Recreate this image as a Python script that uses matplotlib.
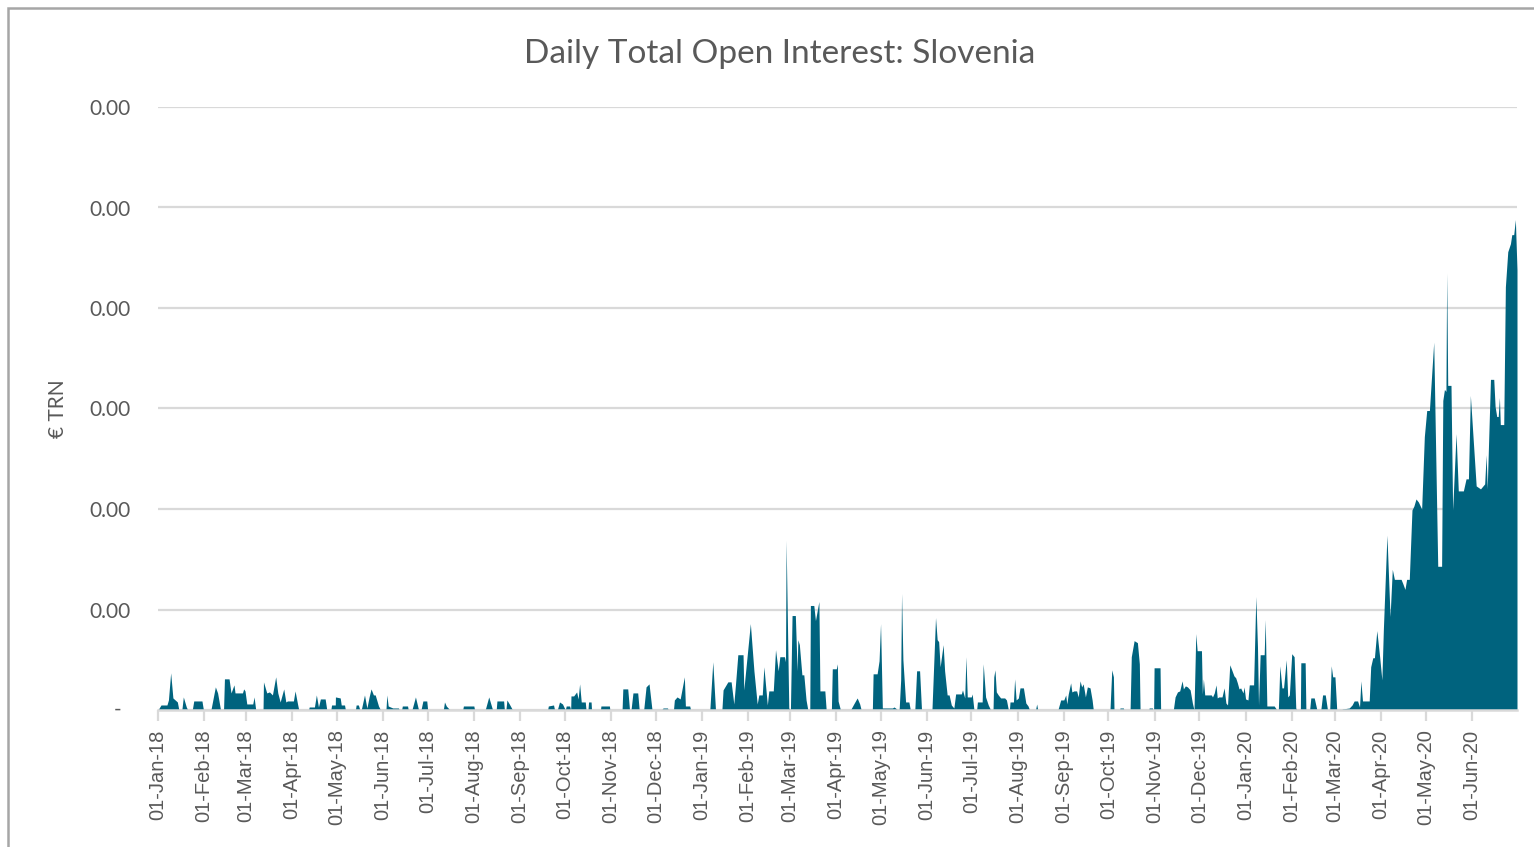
import matplotlib
matplotlib.use("Agg")
import matplotlib.pyplot as plt
import matplotlib.dates as mdates
from matplotlib.ticker import FixedLocator, FuncFormatter
from matplotlib.patches import Rectangle
import datetime as dt
import numpy as np

# ---- data: days since 01-Jan-2018 and open interest (chart units) ----
days_2018 = [0, 2, 6, 7, 8.5, 10, 13, 14, 16, 17, 19, 20, 23, 24, 29.5, 30.5,
             35.5, 38.5, 40, 42, 44, 44.6, 47.7, 49, 51, 51.7, 56.7, 57.5, 58.4, 59.6, 63.6, 64.5, 65.6,
             70.5, 70.8, 73, 74.8, 76.8, 79, 80.4, 82, 84.4, 85.8, 86.9, 90.9, 92, 93.8, 94.5,
             101, 101.5, 105, 106.3, 107.7, 109, 112.2, 113.3,
             116, 116.5, 119, 119.1, 122.3, 123, 125.2, 125.8,
             132.5, 133, 134.5, 135.5, 136.4, 138.6, 140.2, 141.7, 143, 144.6, 145.8, 148, 149.4,
             153, 153.6, 154.5, 157.6, 161.4, 162, 163.5, 164, 167.5, 168,
             170.4, 172.8, 174.9, 176.5, 177.8, 180.4, 181,
             191.5, 192.3, 193.5, 196, 204.5, 205, 212, 212.5,
             219.6, 222, 224.6, 227, 227.5, 232, 232.5, 233.5, 234.2, 235.8, 238,
             261.5, 262, 265.5, 266.2, 268, 269.5, 271.5, 273.4,
             274, 276.3, 277, 277.2, 279, 281, 282, 283, 284.1, 286.8, 287.3,
             288.6, 289, 290.7, 291, 297, 297.3, 303, 303.3,
             311.5, 312, 315.3, 316.5, 317.5, 318.8, 322, 323,
             326, 327.6, 329.6, 331.6, 338, 339, 342, 342.5,
             346, 346.6, 348.4, 350.5, 353.3, 354, 356.9, 357.5]
vals_2018 = [0, 0.05, 0.05, 0.1, 0.37, 0.12, 0.08, 0, 0, 0.13, 0.03, 0, 0, 0.09, 0.09, 0,
             0, 0.23, 0.17, 0, 0, 0.31, 0.31, 0.17, 0.25, 0.17, 0.17, 0.21, 0.19, 0.06, 0.06, 0.13, 0,
             0, 0.28, 0.17, 0.18, 0.15, 0.33, 0.17, 0.08, 0.21, 0.08, 0.09, 0.09, 0.19, 0.05, 0,
             0, 0.03, 0.03, 0.15, 0.03, 0.11, 0.11, 0,
             0, 0.05, 0.05, 0.13, 0.12, 0.05, 0.05, 0,
             0, 0.05, 0.05, 0, 0, 0.15, 0.02, 0.13, 0.21, 0.15, 0.15, 0.04, 0,
             0, 0.15, 0.04, 0.02, 0.02, 0, 0, 0.04, 0.04, 0,
             0, 0.13, 0, 0, 0.09, 0.09, 0,
             0, 0.08, 0.04, 0, 0, 0.04, 0.04, 0,
             0, 0.13, 0, 0, 0.09, 0.09, 0, 0, 0.1, 0.06, 0,
             0, 0.04, 0.05, 0, 0, 0.08, 0.06, 0,
             0.04, 0.04, 0, 0.14, 0.14, 0.18, 0.11, 0.26, 0.08, 0.08, 0,
             0, 0.08, 0.08, 0, 0, 0.04, 0.04, 0,
             0, 0.21, 0.21, 0, 0, 0.17, 0.17, 0,
             0, 0.23, 0.26, 0, 0, 0.02, 0.02, 0,
             0, 0.1, 0.13, 0.11, 0.33, 0.04, 0.04, 0]

days_2019 = [370.4, 372.4, 374.2,
             378.5, 379.3, 382.5, 384.7, 386.5, 387.6, 389.2, 392.7, 393.2, 397.6, 400, 402.2, 403.3, 405.6,
             406.7, 409, 410, 413, 414.5, 416.3, 417.4, 420.5, 421.2, 421.6, 423.4,
             424.5, 425.6, 427.8, 429, 429.5, 430.5, 432.2, 433.5, 435, 436.2,
             437.5, 437.9, 440.2, 441.3, 443.6, 444.3, 447.6, 448.5,
             452, 452.6, 455.3, 456, 456.5, 458.1,
             464.8, 467, 469.3, 471, 472,
             479.5, 480, 482.7, 484, 485, 486.2, 493, 494, 495, 496.5,
             497.5, 498.5, 499.1, 500, 501.8, 504, 505,
             508, 509.2, 511.2, 512.5,
             519.5, 521.9, 523, 524, 525, 527, 528, 529.7, 531, 532.5, 534.2,
             535.4, 539.2, 540, 541.5, 542.3, 543.2, 545.9, 546.5, 547.7,
             549.5, 550, 553.2, 553.9, 555.5, 557.3, 558.9,
             560.5, 561, 561.8, 562.7, 564, 565.6, 568.3, 569.5, 570.8,
             571.5, 571.9, 574.2, 575, 576, 577.5, 578.6, 580.9, 582.5, 584, 585,
             589, 589.8, 590.5,
             604, 605.9, 608, 609.3, 610, 611, 612.6, 613.4, 614.8, 616.6, 617.7, 618.9, 620, 621,
             622.5, 623.8, 625.6, 627, 627.8,
             639, 640.2, 641.3, 641.7, 645.5, 645.7, 648, 648.3,
             652.5, 653.3, 655.2, 657.4, 658.7, 659.2,
             665, 665.3, 667.5, 667.8, 668.3, 668.6, 672.6, 673,
             681.5, 682.7, 684.3, 685.8, 687.4, 688.3, 689.6, 691, 692.8, 694.3, 695.4,
             696.6, 697.5, 700.4, 701, 701.7, 702.6, 707, 707.8, 709, 710.2, 711, 712, 714.2,
             715.6, 716.8, 717.9, 719.4, 720.7, 722.2, 723.4, 724.5, 725.6, 726.7, 728.3, 729]
vals_2019 = [0, 0.48, 0,
             0, 0.2, 0.28, 0.28, 0.06, 0.25, 0.55, 0.55, 0.2, 0.86, 0.39, 0.06, 0.15, 0.15,
             0.43, 0.05, 0.19, 0.19, 0.6, 0.39, 0.53, 0.53, 0.48, 1.69, 0.02,
             0, 0.94, 0.94, 0.39, 0.7, 0.65, 0.35, 0.35, 0.1, 0,
             0, 1.04, 1.04, 0.89, 1.08, 0.19, 0.19, 0,
             0, 0.41, 0.41, 0.46, 0.09, 0,
             0, 0.06, 0.12, 0.06, 0,
             0, 0.36, 0.36, 0.49, 0.86, 0.02, 0.02, 0.03, 0.02, 0,
             0.01, 0.3, 1.16, 0.5, 0.08, 0.08, 0,
             0, 0.39, 0.39, 0,
             0, 0.92, 0.7, 0.68, 0.43, 0.65, 0.39, 0.15, 0.15, 0.05, 0.02,
             0.16, 0.16, 0.2, 0.12, 0.53, 0.13, 0.13, 0.16, 0,
             0, 0.08, 0.08, 0.46, 0.13, 0.05, 0,
             0, 0.33, 0.4, 0.18, 0.15, 0.12, 0.12, 0.1, 0,
             0, 0.08, 0.08, 0.31, 0.1, 0.12, 0.22, 0.22, 0.07, 0.04, 0,
             0, 0.06, 0,
             0, 0.1, 0.1, 0.15, 0.06, 0.16, 0.27, 0.18, 0.19, 0.19, 0.13, 0.29, 0.23, 0.26,
             0.13, 0.23, 0.22, 0.1, 0,
             0, 0.4, 0.33, 0, 0, 0.02, 0.02, 0,
             0, 0.53, 0.69, 0.67, 0.46, 0,
             0, 0.02, 0.02, 0, 0, 0.42, 0.42, 0,
             0, 0.13, 0.18, 0.19, 0.29, 0.21, 0.24, 0.23, 0.2, 0.07, 0,
             0.76, 0.59, 0.59, 0.16, 0.31, 0.15, 0.15, 0.13, 0.17, 0.25, 0.12, 0.13, 0.13,
             0.22, 0.07, 0.05, 0.45, 0.4, 0.34, 0.32, 0.27, 0.21, 0.22, 0.17, 0.23]

days_2020 = [730, 731.6, 732.5, 735.4, 736.9, 738, 738.7, 739.8, 742.5, 743.2, 744.3, 749.2, 751,
             752, 753, 754.4, 755.5, 757.3, 758.3, 759.4, 761, 762.6, 763.7, 764.4,
             766.8, 767.1, 770, 770.5, 773, 773.8, 776.1, 777.9,
             780.5, 781.7, 783.5, 785, 786.5, 787.5, 788.5, 790, 791.2, 794.5,
             795, 799.6, 801.5, 802.9, 805.2, 806.5, 807.4, 808.5, 809.7, 813, 814, 815.4, 816.5,
             818.1, 820, 821.5, 822.5, 824.9, 827, 828.5, 829.9, 834.4, 835.5, 837, 838.1, 839.9,
             841.7, 843, 844.4, 846, 848.2, 850, 851.6, 853.4, 856.3, 859, 861.6, 862.4, 863.5,
             864.5, 865, 865.7, 867.9, 869, 871.3, 872.8, 876.2, 878, 879.6, 880.9, 884.8, 887.7,
             890.5, 891.5, 892.2, 894.4, 896.6, 897.5, 898.6, 899.6, 900.4, 901, 903.3, 904.4,
             906, 907.8, 908.7, 910, 911.1, 912.2]
vals_2020 = [0.11, 0.1, 0.25, 0.25, 1.13, 0.63, 0.05, 0.55, 0.55, 0.9, 0.04, 0.04, 0,
             0, 0.44, 0.22, 0.22, 0.5, 0.13, 0.15, 0.56, 0.53, 0.02, 0,
             0, 0.47, 0.47, 0, 0, 0.12, 0.12, 0,
             0, 0.15, 0.15, 0, 0, 0.44, 0.33, 0.33, 0, 0,
             0.01, 0.02, 0.05, 0.09, 0.09, 0.03, 0.29, 0.09, 0.09, 0.09, 0.43, 0.52, 0.52,
             0.79, 0.53, 0.3, 0.8, 1.74, 0.93, 1.4, 1.3, 1.3, 1.26, 1.2, 1.3, 1.3,
             1.99, 2.03, 2.1, 2.07, 2.0, 2.72, 2.98, 2.98, 3.66, 1.43, 1.43, 3.08, 3.19,
             3.17, 4.35, 3.23, 3.23, 1.99, 2.75, 2.18, 2.18, 2.3, 2.3, 3.13, 2.23, 2.2,
             2.25, 2.54, 2.2, 3.29, 3.29, 3.02, 2.92, 2.92, 3.11, 2.84, 2.84, 4.21,
             4.56, 4.64, 4.73, 4.73, 4.88, 4.38]

y_ticks = [0, 1, 2, 3, 4, 5, 6]
title_text = "Daily Total Open Interest: Slovenia"
y_title = "€ TRN"
start_date = dt.datetime(2018, 1, 1)
last_tick_date = dt.datetime(2020, 6, 1)
end_day = 912.2

# ---- build series ----
days = np.array(days_2018 + days_2019 + days_2020, dtype=float)
vals = np.array(vals_2018 + vals_2019 + vals_2020, dtype=float)
x = mdates.date2num(start_date) + days

area_color = "#00637E"
grid_color = "#D9D9D9"
text_color = "#595959"

fig = plt.figure(figsize=(15.34, 8.47), dpi=100)
ax = fig.add_axes([158 / 1534, 137 / 847, (1517 - 158) / 1534, (710 - 107) / 847])

ax.fill_between(x, 0, vals, color=area_color, linewidth=0, zorder=3)

ax.set_xlim(mdates.date2num(start_date), mdates.date2num(start_date) + end_day)
ax.set_ylim(0, 6)

ax.yaxis.set_major_locator(FixedLocator(y_ticks))
ax.yaxis.set_major_formatter(FuncFormatter(lambda v, p: "" if v == 0 else "0.00"))
ax.grid(axis="y", color=grid_color, linewidth=1.6, zorder=0)
ax.tick_params(axis="y", length=0, pad=20, labelsize=15, labelcolor=text_color)
for lbl in ax.get_yticklabels():
    lbl.set_family("Lato")
ax.text(-0.03, 0, "-", transform=ax.get_yaxis_transform(), ha="center", va="center",
        fontsize=15, color=text_color, family="Lato")

month_ticks = mdates.date2num(
    [dt.datetime(2018 + (m // 12), m % 12 + 1, 1)
     for m in range(0, (last_tick_date.year - 2018) * 12 + last_tick_date.month)])
ax.xaxis.set_major_locator(FixedLocator(month_ticks))
ax.xaxis.set_major_formatter(mdates.DateFormatter("%d-%b-%y"))
ax.tick_params(axis="x", length=8, width=1.6, color=grid_color, pad=6,
               labelsize=14.5, labelcolor=text_color, labelrotation=90)
for lbl in ax.get_xticklabels():
    lbl.set_family("Liberation Sans")

for side in ["top", "right", "left"]:
    ax.spines[side].set_visible(False)
ax.spines["bottom"].set_color(grid_color)
ax.spines["bottom"].set_linewidth(1.8)
ax.spines["bottom"].set_zorder(4)

ax.set_ylabel(y_title, fontsize=15, color=text_color, family="Lato")
ax.yaxis.set_label_coords(-0.066, 0.5)

fig.text(0.5085, 1 - 54 / 847, title_text, ha="center", va="center",
         fontsize=24, color=text_color, family="Lato")

# chart border
fig.patches.append(Rectangle((8 / 1534, -0.05), 1.2, 1 - 8 / 847 + 0.05,
                             transform=fig.transFigure, fill=False,
                             edgecolor="#A6A6A6", linewidth=1.8))

fig.savefig("out.png", dpi=100)
